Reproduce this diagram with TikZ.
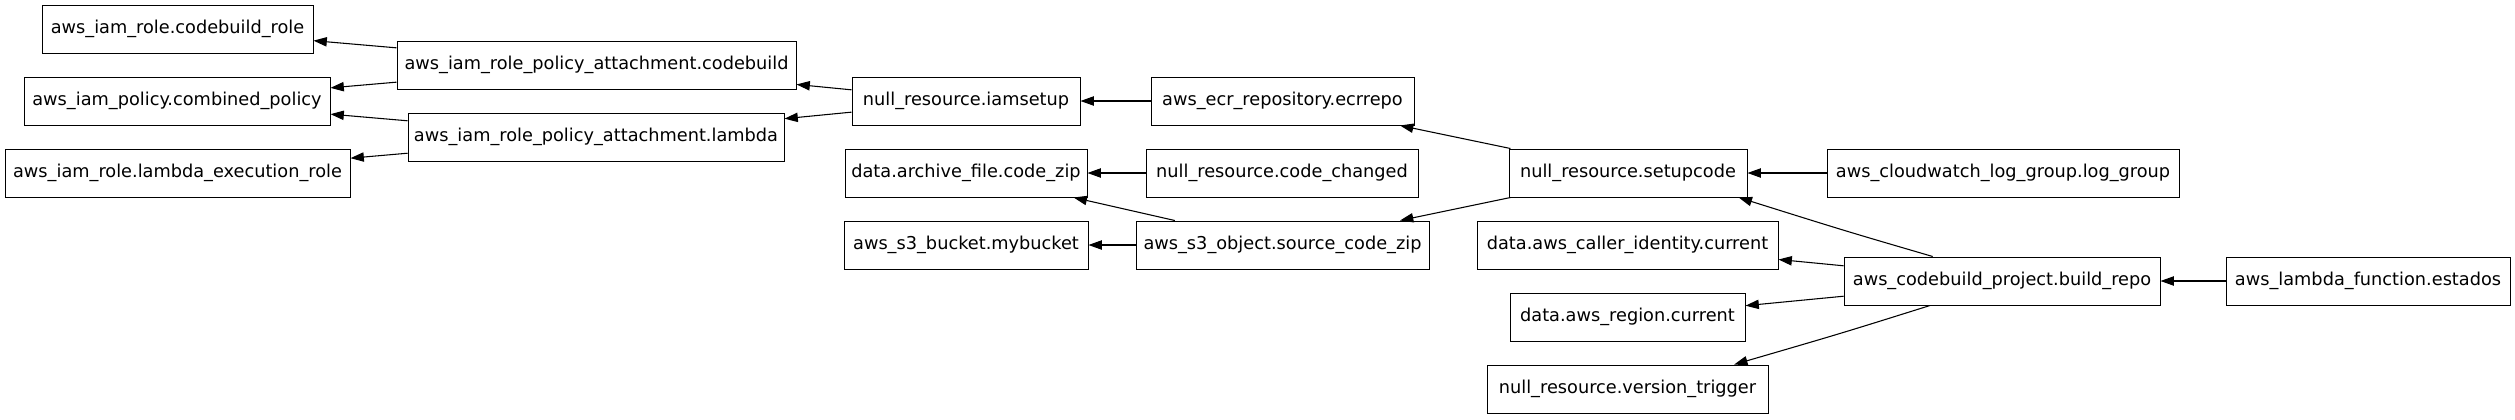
\documentclass[tikz,border=0pt]{standalone}
\usepackage{fontspec}
\setmainfont{DejaVu Sans}
\usetikzlibrary{arrows.meta}
\begin{document}
\begin{tikzpicture}[x=0.75pt,y=-0.75pt,
  box/.style={draw, line width=0.75pt, minimum height=36pt, inner sep=0pt, font=\fontsize{13.3}{16}\selectfont},
  bw/.style={minimum width=#1*0.75pt},
  dep/.style={-{Triangle[length=10pt,width=7pt]}, line width=0.8pt}]
\useasboundingbox (0,0) rectangle (2515,419);
% column 1
\node[box,bw=271] (cbrole) at (177.5,29) {aws\_iam\_role.codebuild\_role};
\node[box,bw=306] (combpol) at (177,101) {aws\_iam\_policy.combined\_policy};
\node[box,bw=345] (lamrole) at (177.5,173) {aws\_iam\_role.lambda\_execution\_role};
% column 2
\node[box,bw=399] (attcb) at (596.5,65) {aws\_iam\_role\_policy\_attachment.codebuild};
\node[box,bw=376] (attlam) at (596,137) {aws\_iam\_role\_policy\_attachment.lambda};
% column 3
\node[box,bw=228] (iamsetup) at (966,101) {null\_resource.iamsetup};
\node[box,bw=242] (archive) at (966,173) {data.archive\_file.code\_zip};
\node[box,bw=244] (bucket) at (966,245) {aws\_s3\_bucket.mybucket};
% column 4
\node[box,bw=263] (ecr) at (1282.5,101) {aws\_ecr\_repository.ecrrepo};
\node[box,bw=272] (codechanged) at (1282,173) {null\_resource.code\_changed};
\node[box,bw=293] (s3obj) at (1282.5,245) {aws\_s3\_object.source\_code\_zip};
% column 5
\node[box,bw=238] (setupcode) at (1628,173) {null\_resource.setupcode};
\node[box,bw=301] (caller) at (1627.5,245) {data.aws\_caller\_identity.current};
\node[box,bw=235] (region) at (1627.5,317) {data.aws\_region.current};
\node[box,bw=281] (vtrigger) at (1627.5,389) {null\_resource.version\_trigger};
% column 6
\node[box,bw=352] (loggroup) at (2003,173) {aws\_cloudwatch\_log\_group.log\_group};
\node[box,bw=316] (buildrepo) at (2002,281) {aws\_codebuild\_project.build\_repo};
% column 7
\node[box,bw=284] (estados) at (2368,281) {aws\_lambda\_function.estados};
% edges
\draw[dep] (attcb) -- (cbrole);
\draw[dep] (attcb) -- (combpol);
\draw[dep] (attlam) -- (combpol);
\draw[dep] (attlam) -- (lamrole);
\draw[dep] (iamsetup) -- (attcb);
\draw[dep] (iamsetup) -- (attlam);
\draw[dep] (ecr) -- (iamsetup);
\draw[dep] (setupcode) -- (ecr);
\draw[dep] (setupcode) -- (s3obj);
\draw[dep] (codechanged) -- (archive);
\draw[dep] (s3obj) -- (archive);
\draw[dep] (s3obj) -- (bucket);
\draw[dep] (loggroup) -- (setupcode);
\draw[dep] ([xshift=-52pt]buildrepo.north) .. controls ([xshift=-117pt,yshift=19pt]buildrepo.north) .. ([xshift=83pt]setupcode.south);
\draw[dep] (buildrepo) -- (caller);
\draw[dep] (buildrepo) -- (region);
\draw[dep] ([xshift=-54pt]buildrepo.south) .. controls ([xshift=-121pt,yshift=-21pt]buildrepo.south) .. ([xshift=80pt]vtrigger.north);
\draw[dep] (estados) -- (buildrepo);
\end{tikzpicture}
\end{document}
